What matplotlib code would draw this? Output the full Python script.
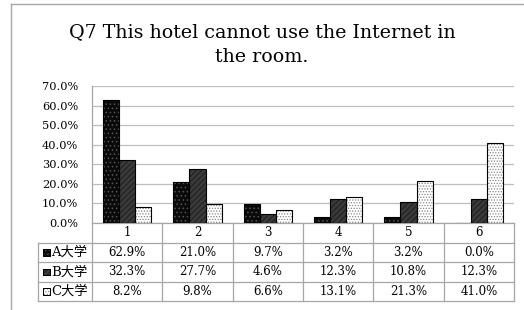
import matplotlib
matplotlib.use("Agg")
import matplotlib.pyplot as plt
from matplotlib.patches import Rectangle
from matplotlib.lines import Line2D

categories = ["1", "2", "3", "4", "5", "6"]
series_names = ["A大学", "B大学", "C大学"]
a_vals = [62.9, 21.0, 9.7, 3.2, 3.2, 0.0]
b_vals = [32.3, 27.7, 4.6, 12.3, 10.8, 12.3]
c_vals = [8.2, 9.8, 6.6, 13.1, 21.3, 41.0]
yticks = [0, 10, 20, 30, 40, 50, 60, 70]
title = "Q7 This hotel cannot use the Internet in\nthe room."

SERIF = ["DejaVu Serif", "Noto Sans CJK JP"]
plt.rcParams["font.family"] = SERIF
plt.rcParams["hatch.linewidth"] = 0.6

W, H = 524, 310
fig = plt.figure(figsize=(W / 100, H / 100), dpi=100)

def fx(px):
    return px / W

def fy(py):
    return 1 - py / H

# outer frame
fig.add_artist(Line2D([fx(11), fx(11)], [fy(4), fy(330)], color="#a6a6a6", lw=1))
fig.add_artist(Line2D([fx(11), fx(540)], [fy(4), fy(4)], color="#a6a6a6", lw=1))

fig.text(0.5, fy(44.5), title, ha="center", va="center", fontsize=13.7,
         family=SERIF, linespacing=1.45)

L, R, T, B = 92, 514, 86, 223
ax = fig.add_axes([fx(L), fy(B), fx(R) - fx(L), fy(T) - fy(B)])
ax.set_xlim(-0.5, 5.5)
ax.set_ylim(0, 70)

styles = [
    dict(facecolor="#0a0a0a", hatch="....", edgecolor="#555555"),
    dict(facecolor="#3a3a3a", hatch="//////", edgecolor="#1a1a1a"),
    dict(facecolor="#ffffff", hatch="......", edgecolor="#888888"),
]
series = [a_vals, b_vals, c_vals]
bw = 0.23
xs = list(range(len(categories)))
for i, (vals, st) in enumerate(zip(series, styles)):
    pos = [x + (i - 1) * bw for x in xs]
    ax.bar(pos, vals, width=bw, zorder=3, linewidth=0, **st)
    ax.bar(pos, vals, width=bw, zorder=4, facecolor="none", edgecolor="#000000",
           linewidth=0.8)

ax.set_yticks(yticks)
ax.set_yticklabels([f"{v:.1f}%" for v in yticks], fontsize=8.2)
ax.set_xticks([])
ax.yaxis.grid(True, color="#bdbdbd", lw=0.9)
ax.set_axisbelow(True)
ax.tick_params(axis="y", length=0, pad=10)
for s in ["top", "right"]:
    ax.spines[s].set_visible(False)
ax.spines["left"].set_color("#a6a6a6")
ax.spines["bottom"].set_color("#a6a6a6")
ax.spines["left"].set_linewidth(0.9)
ax.spines["bottom"].set_linewidth(0.9)

# data table
TL = 38
rows_y = [223, 242.5, 262, 281.5, 301]
unit = (R - L) / 6.0
tax = fig.add_axes([fx(TL), fy(rows_y[-1]), fx(R) - fx(TL), fy(rows_y[0]) - fy(rows_y[-1])])
x_left = -0.5 - (L - TL) / unit
tax.set_xlim(x_left, 5.5)
tax.set_ylim(rows_y[-1], rows_y[0])
tax.axis("off")
gc = "#a6a6a6"
for k in range(7):
    xv = -0.5 + k
    tax.plot([xv, xv], [rows_y[0], rows_y[-1]], color=gc, lw=0.9, clip_on=False)
tax.plot([x_left, x_left], [rows_y[1], rows_y[-1]], color=gc, lw=0.9, clip_on=False)
for yv in rows_y[1:]:
    tax.plot([x_left, 5.5], [yv, yv], color=gc, lw=0.9, clip_on=False)

for j, c in enumerate(categories):
    tax.text(j, (rows_y[0] + rows_y[1]) / 2, c, ha="center", va="center", fontsize=8.5)
for i, (name, vals, st) in enumerate(zip(series_names, series, styles)):
    yc = (rows_y[i + 1] + rows_y[i + 2]) / 2
    for j, v in enumerate(vals):
        tax.text(j, yc, f"{v:.1f}%", ha="center", va="center", fontsize=8.5)
    ksz = 6.5
    kx0 = fx(TL + 5)
    rect = Rectangle((kx0, fy(yc + ksz / 2)), ksz / W, ksz / H, transform=fig.transFigure,
                     lw=0.7, **st)
    fig.add_artist(rect)
    fig.add_artist(Rectangle((kx0, fy(yc + ksz / 2)), ksz / W, ksz / H,
                             transform=fig.transFigure, facecolor="none",
                             edgecolor="black", lw=0.7))
    fig.text(fx(TL + 13), fy(yc), name, ha="left", va="center", fontsize=9.5,
             family=SERIF)

fig.savefig("out.png", dpi=100)
